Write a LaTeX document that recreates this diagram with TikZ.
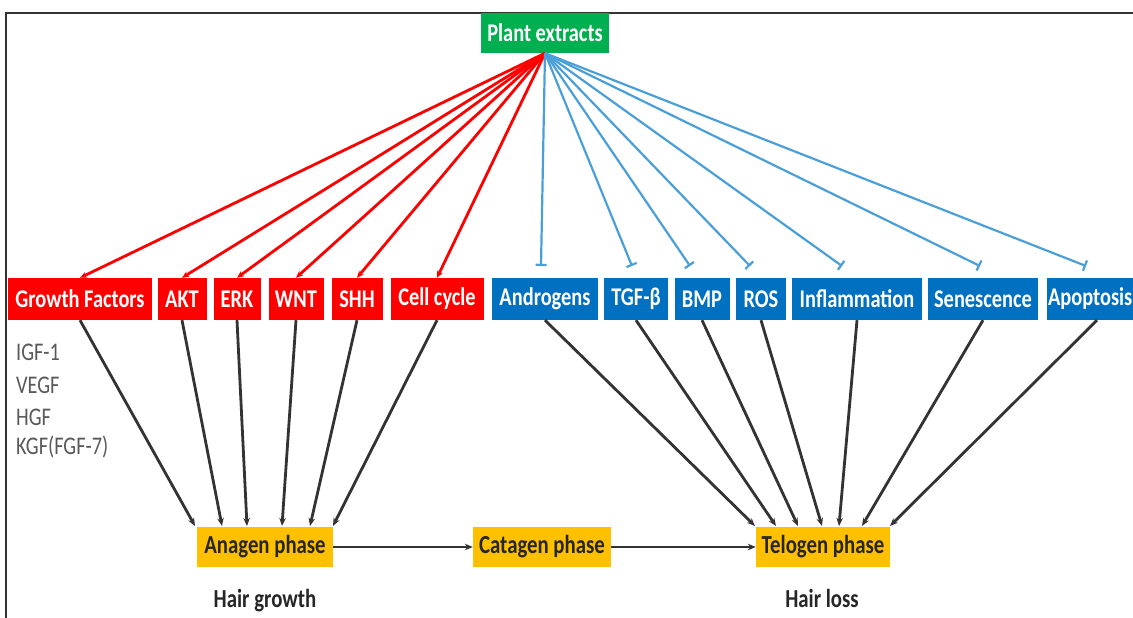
\documentclass[tikz,border=0pt]{standalone}
\usepackage{fontspec}
\setmainfont{Carlito}[FakeStretch=0.80]
\usetikzlibrary{arrows.meta,calc}
\definecolor{cred}{HTML}{FF0000}
\definecolor{cblue}{HTML}{0070C0}
\definecolor{cgreen}{HTML}{00B050}
\definecolor{cyellow}{HTML}{FFC000}
\definecolor{lblue}{HTML}{4A9FD8}
\definecolor{dgray}{HTML}{333333}
\definecolor{tgray}{HTML}{595959}
\tikzset{
  box/.style={inner sep=0pt, minimum height=42bp, text=white,
    font=\fontsize{25.5bp}{29bp}\selectfont\bfseries},
  redbox/.style={box, fill=cred},
  bluebox/.style={box, fill=cblue},
  greenbox/.style={box, fill=cgreen, minimum height=40bp},
  phasebox/.style={inner sep=0pt, minimum height=40bp, fill=cyellow, text=black!85,
    font=\fontsize{26bp}{30bp}\selectfont\bfseries},
  redline/.style={draw=cred, line width=2.8bp, -{Stealth[length=7bp,width=6bp]}},
  blueline/.style={draw=lblue, line width=2.2bp, -{Bar[width=11bp,line width=2.2bp]}},
  blackline/.style={draw=dgray, line width=2.8bp, -{Stealth[length=8bp,width=6.5bp]}},
  sidetext/.style={anchor=west, text=tgray, inner sep=0pt,
    font=\fontsize{25.4bp}{29bp}\selectfont},
  labeltext/.style={text=black!85, inner sep=0pt,
    font=\fontsize{26bp}{30bp}\selectfont\bfseries},
}
\begin{document}
\begin{tikzpicture}[x=1bp,y=-1bp]
\useasboundingbox (0,0) rectangle (1133,618);
\fill[white] (0,0) rectangle (1133,618);
\draw[dgray, line width=2bp] (1150,13) -- (6,13) -- (6,640);

% top
\node[greenbox, minimum width=128bp] (pe) at (545,33) {Plant extracts};

% red boxes
\node[redbox, minimum width=144bp] (gf) at (80,299) {Growth Factors};
\node[redbox, minimum width=49bp] (akt) at (182,299) {AKT};
\node[redbox, minimum width=47bp] (erk) at (237,299) {ERK};
\node[redbox, minimum width=55bp] (wnt) at (296,299) {WNT};
\node[redbox, minimum width=51bp] (shh) at (357,299) {SHH};
\node[redbox, minimum width=93bp] (cc) at (437,299) {Cell cycle};

% blue boxes
\node[bluebox, minimum width=106bp] (andr) at (545,299) {Androgens};
\node[bluebox, minimum width=64bp] (tgf) at (636,299) {TGF-β};
\node[bluebox, minimum width=55bp] (bmp) at (702,299) {BMP};
\node[bluebox, minimum width=50bp] (ros) at (761,299) {ROS};
\node[bluebox, minimum width=130bp] (infl) at (857,299) {Inflammation};
\node[bluebox, minimum width=100bp, text width=98bp, align=left] (apo) at (1097,299) {Apoptosis};
\node[bluebox, minimum width=110bp] (sen) at (983,299) {Senescence};

% side text
\node[sidetext] (igf) at (16,352) {IGF-1};
\node[sidetext] (vegf) at (16,385) {VEGF};
\node[sidetext] (hgf) at (16,417) {HGF};
\node[sidetext] (kgf) at (16,447) {KGF(FGF-7)};

% phases
\node[phasebox, minimum width=136bp] (ana) at (265,547) {Anagen phase};
\node[phasebox, minimum width=138bp] (cat) at (542,547) {Catagen phase};
\node[phasebox, minimum width=134bp] (tel) at (823,547) {Telogen phase};
\node[labeltext] (hg) at (265,601) {Hair growth};
\node[labeltext] (hl) at (822,598) {Hair loss};

% red activation lines
\foreach \n in {gf,akt,erk,wnt,shh,cc}
  \draw[redline] (pe.south) -- (\n.north);

% blue inhibition lines
\coordinate (b1) at (541,266);
\coordinate (b2) at (632,266);
\coordinate (b3) at (690,266);
\coordinate (b4) at (750,266);
\coordinate (b5) at (842,266);
\coordinate (b6) at (980,266);
\coordinate (b7) at (1086,266);
\foreach \c in {b1,b2,b3,b4,b5,b6,b7}
  \draw[blueline] (pe.south) -- (\c);

% black arrows into anagen
\coordinate (a1) at (195,526);
\coordinate (a2) at (222,526);
\coordinate (a3) at (247,526);
\coordinate (a4) at (282,526);
\coordinate (a5) at (310,526);
\coordinate (a6) at (333,526);
\draw[blackline] (gf.south) -- (a1);
\draw[blackline] (akt.south) -- (a2);
\draw[blackline] (erk.south) -- (a3);
\draw[blackline] (wnt.south) -- (a4);
\draw[blackline] (shh.south) -- (a5);
\draw[blackline] (cc.south) -- (a6);

% black arrows into telogen
\coordinate (t1) at (755,526);
\coordinate (t2) at (776,526);
\coordinate (t3) at (798,526);
\coordinate (t4) at (822,526);
\coordinate (t5) at (839,526);
\coordinate (t6) at (862,526);
\coordinate (t7) at (890,526);
\draw[blackline] (andr.south) -- (t1);
\draw[blackline] (tgf.south) -- (t2);
\draw[blackline] (bmp.south) -- (t3);
\draw[blackline] (ros.south) -- (t4);
\draw[blackline] (infl.south) -- (t5);
\draw[blackline] (sen.south) -- (t6);
\draw[blackline] (apo.south) -- (t7);

% phase transitions
\draw[blackline] (ana.east) -- (cat.west);
\draw[blackline] (cat.east) -- (tel.west);
\end{tikzpicture}
\end{document}
